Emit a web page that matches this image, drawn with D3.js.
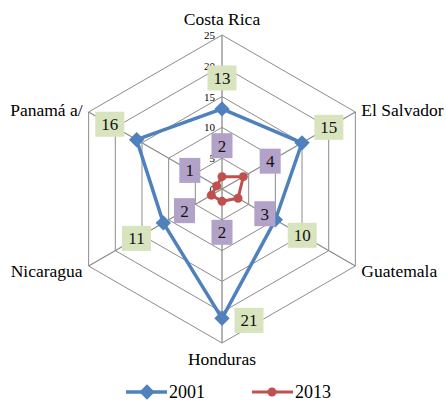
<!DOCTYPE html>
<html lang="es">
<head>
<meta charset="utf-8">
<title>Radar</title>
<script src="https://d3js.org/d3.v7.min.js"></script>
<style>
  body { margin: 0; background: #fff; }
  text { font-family: "Liberation Serif", "DejaVu Serif", serif; }
</style>
</head>
<body>
<div id="chart"></div>
<script>
// datos
var categorias = ["Costa Rica", "El Salvador", "Guatemala", "Honduras", "Nicaragua", "Panamá a/"];
var serie2001 = [13, 15, 10, 21, 11, 16];
var serie2013 = [2, 4, 3, 2, 2, 1];
var ticks = [0, 5, 10, 15, 20, 25];
var series = ["2001", "2013"];

var width = 446, height = 402;
var cx = 222, cy = 189, radio = 154;

var svg = d3.select("#chart").append("svg")
    .attr("width", width)
    .attr("height", height)
    .attr("font-family", "Liberation Serif, DejaVu Serif, serif");

var r = d3.scaleLinear().domain([0, 25]).range([0, radio]);
var ang = d3.scalePoint().domain(categorias).range([0, 2 * Math.PI * 5 / 6]);

function punto(cat, v) {
    var a = ang(cat);
    return [cx + r(v) * Math.sin(a), cy - r(v) * Math.cos(a)];
}

// rejilla
var g = svg.append("g");
ticks.slice(1).forEach(function(t) {
    g.append("polygon")
        .attr("points", categorias.map(function(c) { return punto(c, t).join(","); }).join(" "))
        .attr("fill", "none")
        .attr("stroke", "#8c8c8c")
        .attr("stroke-width", 1);
});
categorias.forEach(function(c) {
    var p = punto(c, 25);
    g.append("line")
        .attr("x1", cx).attr("y1", cy)
        .attr("x2", p[0]).attr("y2", p[1])
        .attr("stroke", "#8c8c8c")
        .attr("stroke-width", 1.3);
});

// etiquetas del eje
ticks.forEach(function(t) {
    svg.append("text")
        .attr("x", cx - 7)
        .attr("y", cy - r(t) + 4)
        .attr("text-anchor", "end")
        .style("font-size", "11px")
        .text(t);
});

// nombres de categorias
var anclas = ["middle", "start", "start", "middle", "end", "end"];
var desp = [[0, -10], [6, 4], [6, 11], [0, 22], [-6, 11], [-6, 4]];
categorias.forEach(function(c, i) {
    var p = punto(c, 25);
    svg.append("text")
        .attr("x", p[0] + desp[i][0])
        .attr("y", p[1] + desp[i][1])
        .attr("text-anchor", anclas[i])
        .style("font-size", "17.5px")
        .text(c);
});

// series
var colores = d3.scaleOrdinal().domain(series).range(["#4f81bd", "#c0504d"]);
var linea = d3.line().curve(d3.curveLinearClosed);
var diamante = d3.symbol().type(d3.symbolDiamond2).size(150);

svg.append("path")
    .attr("d", linea(categorias.map(function(c, i) { return punto(c, serie2001[i]); })))
    .attr("fill", "none")
    .attr("stroke", colores("2001"))
    .attr("stroke-width", 3.5)
    .attr("stroke-linejoin", "round");

svg.append("path")
    .attr("d", linea(categorias.map(function(c, i) { return punto(c, serie2013[i]); })))
    .attr("fill", "none")
    .attr("stroke", colores("2013"))
    .attr("stroke-width", 3)
    .attr("stroke-linejoin", "round");

categorias.forEach(function(c, i) {
    var p = punto(c, serie2001[i]);
    svg.append("path")
        .attr("d", diamante())
        .attr("transform", "translate(" + p[0] + "," + p[1] + ")")
        .attr("fill", colores("2001"));
    var q = punto(c, serie2013[i]);
    svg.append("circle")
        .attr("cx", q[0]).attr("cy", q[1]).attr("r", 4.5)
        .attr("fill", colores("2013"));
});

// etiquetas de datos
function etiqueta(c, v, fondo, dx, dy) {
    var p = punto(c, v);
    var x = p[0] + dx, y = p[1] + dy;
    var txt = String(v);
    var w = txt.length * 8 + 13, h = 25;
    svg.append("rect")
        .attr("x", x - w / 2).attr("y", y - h / 2)
        .attr("width", w).attr("height", h)
        .attr("fill", fondo);
    svg.append("text")
        .attr("x", x).attr("y", y + 6)
        .attr("text-anchor", "middle")
        .style("font-size", "17px")
        .attr("fill", "#111")
        .text(txt);
}
categorias.forEach(function(c, i) {
    var a = ang(c);
    var dx = 31 * Math.sin(a), dy = -31 * Math.cos(a);
    if (c === "Honduras") { dx = 27; dy = 2; }
    etiqueta(c, serie2001[i], "#d7e4bd", dx, dy);
    etiqueta(c, serie2013[i], "#b3a2c7", 31 * Math.sin(a), -31 * Math.cos(a));
});

// leyenda
var ley = svg.selectAll(".leyenda")
    .data(series)
    .enter().append("g")
    .attr("class", "leyenda")
    .attr("transform", function(d, i) { return "translate(" + (126 + i * 126) + ",392)"; });

ley.append("line")
    .attr("x1", 0).attr("x2", 41)
    .attr("stroke", colores)
    .attr("stroke-width", function(d) { return d === "2001" ? 3.5 : 3; });

ley.each(function(d) {
    var s = d3.select(this);
    if (d === "2001") {
        s.append("path").attr("d", diamante()).attr("transform", "translate(21,0)").attr("fill", colores(d));
    } else {
        s.append("circle").attr("cx", 20).attr("r", 4.5).attr("fill", colores(d));
    }
});

ley.append("text")
    .attr("x", 43)
    .attr("y", 6)
    .style("font-size", "18px")
    .text(function(d) { return d; });
</script>
</body>
</html>
